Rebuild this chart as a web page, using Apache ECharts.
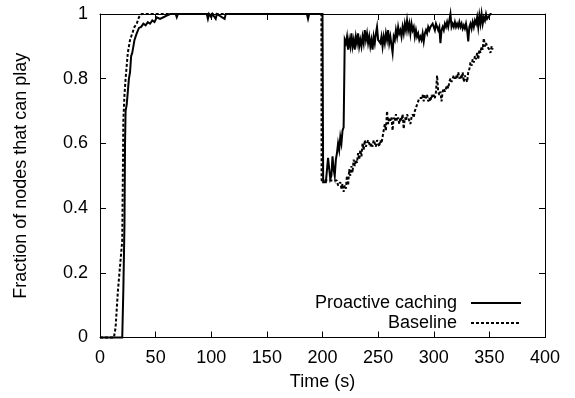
<!DOCTYPE html>
<html>
<head>
<meta charset="utf-8">
<script src="https://cdn.jsdelivr.net/npm/echarts/dist/echarts.min.js"></script>
<style>html,body{margin:0;padding:0;background:#fff;}#c{width:575px;height:398px;}</style>
</head>
<body>
<div id="c"></div>
<script>
var xTicks = [0, 50, 100, 150, 200, 250, 300, 350, 400];
var yTicks = [0, 0.2, 0.4, 0.6, 0.8, 1];
var seriesNames = ['Proactive caching', 'Baseline'];

var proactiveTime = [0,20,21,22,22.5,23,24,25,26,27,28,29,31,33,35,37,39,41,43,45,47,49,51,54,57,60,63,68,69,70,96,97,98,100,101,104,105,112,113,186,187,188,200,200.6,203,205,207,208,209,210,211,212,213,214,215,216,217,218,219,220,
221,222,223,224,225,226,227,228,229,230,231,232,233,234,235,236,237,238,239,240,241,242,243,244,245,246,247,248,249,250,252,253,254,255,256,257,258,259,260,261,263,264,265,266,267,268,269,270,
271,272,273,274,275,276,277,278,279,280,281,282,283,284,285,286,287,288,289,290,291,292,293,294,295,296,297,298,299,300,301,302,303,304,305,306,307,308,309,310,
311,312,313,314,315,316,317,318,319,320,321,322,323,324,325,326,327,328,329,330,331,332,333,334,335,336,337,338,339,340,341,342,343,344,345,346,347,348,349,351,352];
var proactiveValue = [0,0,0.15,0.35,0.6,0.7,0.72,0.76,0.8,0.82,0.87,0.88,0.92,0.94,0.957,0.96,0.97,0.965,0.975,0.97,0.98,0.975,0.99,0.985,0.99,0.995,1,1,0.99,1,1,0.985,1,0.99,1,0.985,1,0.985,1,1,0.985,1,1,0.48,0.48,0.555,0.49,0.5,0.56,0.52,0.5,0.55,0.57,0.6,0.58,0.62,0.6,0.64,0.65,0.92,
0.91,0.93,0.89,0.92,0.9,0.94,0.9,0.92,0.89,0.93,0.91,0.94,0.9,0.92,0.9,0.93,0.91,0.95,0.92,0.94,0.91,0.93,0.9,0.92,0.89,0.93,0.91,0.94,0.96,0.92,0.91,0.93,0.9,0.93,0.91,0.94,0.92,0.95,0.91,0.93,0.88,0.93,0.92,0.95,0.93,0.96,0.94,0.95,
0.93,0.96,0.94,0.97,0.95,0.98,0.95,0.97,0.94,0.97,0.95,0.96,0.93,0.95,0.93,0.94,0.92,0.93,0.92,0.94,0.915,0.94,0.95,0.94,0.96,0.95,0.96,0.955,0.97,0.96,0.95,0.97,0.96,0.95,0.96,0.91,0.95,0.96,0.95,0.97,
0.96,0.975,0.96,0.98,1,0.96,0.97,0.96,0.975,0.96,0.97,0.96,0.975,0.96,0.97,0.955,0.965,0.955,0.97,0.95,0.915,0.96,0.97,0.955,0.975,0.96,0.98,0.97,0.99,0.96,0.995,0.97,1,0.97,0.99,0.98,1,0.985,0.99,1,1];

var baselineTime = [0,12.5,14,16,18,20,21,22,23,25,27,29,31,33,35,37.5,199,199.2,213,214,216,217,218,219,220,221,222,223,224,225,226,227,228,229,230,231,232,233,234,235,236,237,238,239,240,
241,242,243,244,245,246,247,248,249,250,251,252,253,254,255,256,257,258,259,260,261,262,263,264,265,266,267,268,269,270,271,272,273,274,275,276,277,278,279,280,
281,282,283,284,285,286,287,288,289,290,291,292,293,294,295,296,297,298,299,300,301,302,303,304,305,306,307,308,309,310,311,312,313,314,315,316,317,318,319,320,
321,322,323,324,325,326,327,328,329,330,331,332,333,334,335,336,337,338,339,340,341,342,343,344,345,346,347,348,349,350,351,352,353];
var baselineValue = [0,0,0.03,0.14,0.22,0.3,0.67,0.75,0.8,0.88,0.92,0.94,0.96,0.97,0.99,1,1,0.485,0.485,0.47,0.48,0.46,0.475,0.45,0.47,0.46,0.5,0.47,0.52,0.5,0.53,0.51,0.55,0.53,0.55,0.54,0.57,0.55,0.58,0.56,0.6,0.58,0.61,0.59,0.6,
0.61,0.6,0.59,0.6,0.59,0.61,0.6,0.59,0.61,0.6,0.59,0.61,0.6,0.62,0.62,0.66,0.64,0.7,0.66,0.68,0.67,0.68,0.64,0.68,0.67,0.69,0.67,0.68,0.66,0.68,0.67,0.69,0.645,0.68,0.67,0.69,0.68,0.67,0.66,0.68,
0.69,0.68,0.7,0.71,0.72,0.73,0.74,0.745,0.74,0.75,0.73,0.75,0.74,0.75,0.73,0.74,0.73,0.75,0.74,0.75,0.74,0.76,0.81,0.76,0.75,0.76,0.73,0.76,0.77,0.76,0.77,0.78,0.77,0.79,0.8,0.79,0.8,0.81,0.8,0.81,
0.8,0.82,0.8,0.81,0.8,0.82,0.79,0.81,0.8,0.79,0.82,0.83,0.85,0.84,0.86,0.85,0.87,0.86,0.88,0.86,0.89,0.88,0.9,0.89,0.925,0.9,0.91,0.9,0.895,0.89,0.88,0.9,0.89];

function pairs(t, v) { return t.map(function (x, i) { return [x, v[i]]; }); }

var FONT = "'Liberation Sans', Arial, Helvetica, sans-serif";
var FS = 18;

var chart = echarts.init(document.getElementById('c'), null, {renderer: 'canvas'});
var axisCommon = {
  type: 'value',
  axisLine: {show: true, onZero: false, lineStyle: {color: '#000', width: 1}},
  axisTick: {show: true, inside: true, length: 6, lineStyle: {color: '#000', width: 1}},
  splitLine: {show: false}
};
chart.setOption({
  animation: false,
  backgroundColor: '#fff',
  textStyle: {fontFamily: FONT, color: '#000'},
  grid: {left: 100, right: 30, top: 14, bottom: 60.5, containLabel: false},
  legend: {
    orient: 'vertical',
    align: 'right',
    right: 53,
    top: 294,
    padding: 0,
    itemGap: 2,
    itemWidth: 50,
    itemHeight: 14,
    textStyle: {fontFamily: FONT, fontSize: FS, color: '#000', padding: [0, 9, 0, 0]},
    itemStyle: {color: 'transparent', borderColor: 'transparent', borderWidth: 0},
    data: seriesNames
  },
  xAxis: [
    Object.assign({}, axisCommon, {
      position: 'bottom', min: xTicks[0], max: xTicks[xTicks.length - 1], interval: 50,
      name: 'Time (s)', nameLocation: 'middle', nameGap: 36,
      nameTextStyle: {fontFamily: FONT, fontSize: FS, color: '#000'},
      axisLabel: {show: true, margin: 12, fontFamily: FONT, fontSize: FS, color: '#000'}
    }),
    Object.assign({}, axisCommon, {
      position: 'top', min: xTicks[0], max: xTicks[xTicks.length - 1], interval: 50,
      axisLabel: {show: false}
    })
  ],
  yAxis: [
    Object.assign({}, axisCommon, {
      position: 'left', min: yTicks[0], max: yTicks[yTicks.length - 1], interval: 0.2,
      name: 'Fraction of nodes that can play', nameLocation: 'middle', nameGap: 70,
      nameTextStyle: {fontFamily: FONT, fontSize: FS, color: '#000'},
      axisLabel: {show: true, margin: 12, fontFamily: FONT, fontSize: FS, color: '#000'}
    }),
    Object.assign({}, axisCommon, {
      position: 'right', min: yTicks[0], max: yTicks[yTicks.length - 1], interval: 0.2,
      axisLabel: {show: false}
    })
  ],
  series: [
    {
      name: seriesNames[0], type: 'line', xAxisIndex: 0, yAxisIndex: 0,
      data: pairs(proactiveTime, proactiveValue),
      symbol: 'none', showSymbol: false, clip: false, z: 3,
      lineStyle: {color: '#000', width: 2, type: 'solid', join: 'miter'},
      itemStyle: {color: 'transparent', borderColor: 'transparent', borderWidth: 0}
    },
    {
      name: seriesNames[1], type: 'line', xAxisIndex: 0, yAxisIndex: 0,
      data: pairs(baselineTime, baselineValue),
      symbol: 'none', showSymbol: false, clip: false, z: 2,
      lineStyle: {color: '#000', width: 2, type: [3, 2]},
      itemStyle: {color: 'transparent', borderColor: 'transparent', borderWidth: 0}
    }
  ]
});
</script>
</body>
</html>
